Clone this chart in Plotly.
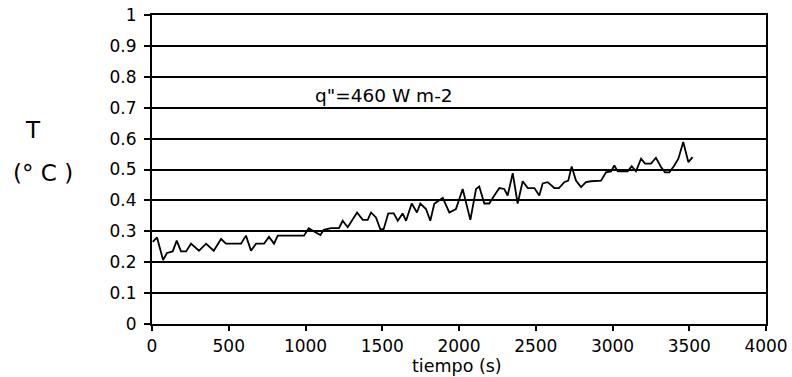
import plotly.graph_objects as go

# Temperature rise over time for a heat flux of 460 W m-2
tiempo_s = [
    5, 33, 72, 98, 135, 161, 189, 222, 254, 306, 352, 402, 450, 482, 580, 612,
    645, 678, 730, 762, 795, 819, 990, 1021, 1053, 1097, 1119, 1166, 1218, 1242,
    1275, 1336, 1373, 1405, 1427, 1459, 1487, 1509, 1539, 1575, 1601, 1633, 1655,
    1692, 1726, 1748, 1785, 1813, 1839, 1872, 1894, 1937, 1980, 2024, 2074, 2111,
    2132, 2165, 2197, 2230, 2263, 2295, 2317, 2350, 2382, 2415, 2448, 2491, 2523,
    2545, 2578, 2621, 2651, 2686, 2712, 2734, 2762, 2795, 2827, 2860, 2925, 2958,
    2990, 3012, 3034, 3099, 3125, 3153, 3186, 3212, 3251, 3283, 3316, 3342, 3370,
    3403, 3429, 3461, 3494, 3522,
]
temp_c = [
    0.266, 0.28, 0.207, 0.23, 0.235, 0.27, 0.235, 0.235, 0.26, 0.237, 0.26, 0.237,
    0.275, 0.26, 0.26, 0.286, 0.237, 0.26, 0.26, 0.282, 0.26, 0.286, 0.286, 0.31,
    0.30, 0.288, 0.305, 0.31, 0.31, 0.334, 0.313, 0.361, 0.337, 0.337, 0.361, 0.345,
    0.307, 0.307, 0.358, 0.358, 0.334, 0.358, 0.334, 0.39, 0.361, 0.39, 0.372,
    0.334, 0.389, 0.399, 0.408, 0.361, 0.372, 0.437, 0.337, 0.437, 0.445, 0.39,
    0.39, 0.416, 0.44, 0.437, 0.416, 0.488, 0.39, 0.462, 0.44, 0.44, 0.416, 0.455,
    0.459, 0.44, 0.44, 0.459, 0.464, 0.51, 0.464, 0.443, 0.459, 0.462, 0.464, 0.491,
    0.494, 0.513, 0.494, 0.494, 0.511, 0.494, 0.535, 0.519, 0.519, 0.538, 0.508,
    0.491, 0.491, 0.513, 0.535, 0.589, 0.524, 0.54,
]

x_ticks = [0, 500, 1000, 1500, 2000, 2500, 3000, 3500, 4000]
y_ticks = [0, 0.1, 0.2, 0.3, 0.4, 0.5, 0.6, 0.7, 0.8, 0.9, 1]
y_tick_text = ["0", "0.1", "0.2", "0.3", "0.4", "0.5", "0.6", "0.7", "0.8", "0.9", "1"]

FONT = "DejaVu Sans"


def label(x, y, text, size, ref="paper"):
    return dict(x=x, y=y, xref="x" if ref == "data" else "paper",
                yref="y" if ref == "data" else "paper", text=text,
                showarrow=False, xanchor="center", yanchor="middle",
                font=dict(family=FONT, size=size, color="black"))


fig = go.Figure()
fig.add_trace(go.Scatter(
    x=tiempo_s, y=temp_c, mode="lines",
    line=dict(color="black", width=1.8),
    showlegend=False, hoverinfo="skip",
))

fig.update_layout(
    width=792, height=377,
    margin=dict(l=152, r=26, t=15, b=53),
    paper_bgcolor="white", plot_bgcolor="white",
    font=dict(family=FONT, size=17, color="black"),
    xaxis=dict(
        range=[0, 4000], tickvals=x_ticks, ticks="outside", ticklen=5,
        tickwidth=1.5, tickcolor="black", showgrid=False, zeroline=False,
        showline=True, linecolor="black", linewidth=2, mirror=True,
        ticklabelstandoff=1, automargin=False,
    ),
    yaxis=dict(
        range=[0, 1], tickvals=y_ticks, ticktext=y_tick_text, ticks="outside",
        ticklen=6, tickwidth=1.5, tickcolor="black", showgrid=True,
        gridcolor="black", gridwidth=2, zeroline=False, showline=True,
        linecolor="black", linewidth=2, mirror=True, ticklabelstandoff=4,
        automargin=False,
    ),
    annotations=[
        label(1511, 0.741, 'q"=460 W m-2', 18.5, ref="data"),
        label(-0.193, 0.628, "T", 23),
        label(-0.177, 0.489, "(° C )", 23),
        label(0.4965, -0.136, "tiempo (s)", 17.5),
    ],
)

fig.write_html("out.html")
